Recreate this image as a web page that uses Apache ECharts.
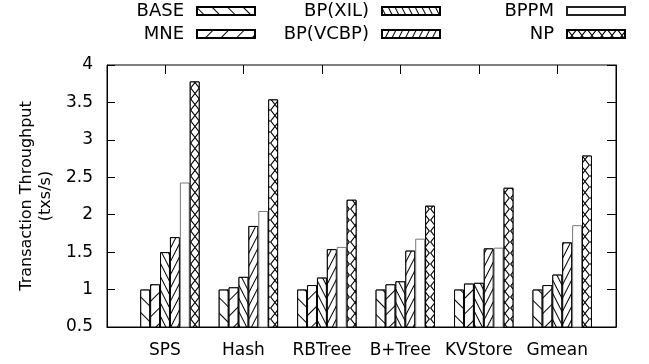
<!DOCTYPE html>
<html>
<head>
<meta charset="utf-8">
<script src="https://cdn.jsdelivr.net/npm/echarts@6.0.0/dist/echarts.min.js"></script>
<style>
  html, body { margin: 0; padding: 0; background: #fff; }
  #chart { width: 649px; height: 364px; }
</style>
</head>
<body>
<div id="chart"></div>
<script>
// data
const categories = ['SPS', 'Hash', 'RBTree', 'B+Tree', 'KVStore', 'Gmean'];
const seriesNames = ['BASE', 'MNE', 'BP(XIL)', 'BP(VCBP)', 'BPPM', 'NP'];
const baseData = [1.0, 1.0, 1.0, 1.0, 1.0, 1.0];
const mneData = [1.07, 1.03, 1.06, 1.07, 1.08, 1.06];
const xilData = [1.5, 1.17, 1.16, 1.11, 1.09, 1.2];
const vcbpData = [1.7, 1.85, 1.54, 1.52, 1.55, 1.63];
const bppmData = [2.43, 2.05, 1.57, 1.68, 1.56, 1.86];
const npData = [3.78, 3.54, 2.2, 2.12, 2.36, 2.79];
const yMin = 0.5;
const yMax = 4;
const yStep = 0.5;

const font = 'DejaVu Sans';

// line hatch made of rotated 1px rows
function hatch(angle, gap) {
  return {
    symbol: 'rect', symbolSize: 1,
    dashArrayX: [1, 0], dashArrayY: [1, gap],
    rotation: angle, color: '#000', backgroundColor: '#fff'
  };
}
const crossHatch = {
  symbol: 'path://M0 0L1.4 0L10 10L8.6 10ZM8.6 0L10 0L1.4 10L0 10Z',
  symbolSize: 1, symbolKeepAspect: false,
  dashArrayX: [10, 0], dashArrayY: [11, 0],
  color: '#000', backgroundColor: '#fff'
};

const decals = [
  hatch(Math.PI / 4, 10),   // "\\"
  hatch(-Math.PI / 4, 10),  // "//"
  hatch(1.1, 5),            // steep "\\"
  hatch(-1.1, 5),           // steep "//"
  null,
  crossHatch
];
const values = [baseData, mneData, xilData, vcbpData, bppmData, npData];

const barW = 9.9;
const series = [{
  // empty slot, pushes the cluster half a bar to the right like gnuplot does
  name: '_slot', type: 'bar', xAxisIndex: 1, yAxisIndex: 2,
  data: [], barWidth: barW, barGap: '0%'
}];
seriesNames.forEach((n, i) => {
  series.push({
    name: n, type: 'bar', xAxisIndex: 1, yAxisIndex: 2,
    data: values[i], barWidth: barW, barGap: '0%',
    itemStyle: {
      color: '#fff',
      borderColor: n === 'BPPM' ? '#777' : '#000',
      borderWidth: 1,
      decal: decals[i] || undefined
    },
    emphasis: { disabled: true },
    animation: false
  });
});

// key: text right-aligned, sample to the right of it
const legendSpots = [
  { right: 393, top: 1 }, { right: 393, top: 24 },
  { right: 208, top: 1 }, { right: 208, top: 24 },
  { right: 23, top: 1 }, { right: 23, top: 24 }
];
const legends = seriesNames.map((n, i) => ({
  data: [n],
  right: legendSpots[i].right,
  top: legendSpots[i].top,
  padding: 0,
  align: 'right',
  icon: 'rect',
  itemWidth: 58,
  itemHeight: 8,
  selectedMode: false,
  itemStyle: n === 'BPPM' ? { borderColor: '#222' } : {},
  textStyle: { fontFamily: font, fontSize: 18, color: '#000', lineHeight: 20, padding: [0, 8, 0, 0] }
}));

const option = {
  animation: false,
  backgroundColor: '#fff',
  legend: legends,
  grid: [
    { left: 107, right: 33, top: 65, bottom: 37, show: true, borderColor: '#000', borderWidth: 1, backgroundColor: 'transparent' },
    { left: 125.77, right: 52.5, top: 65, bottom: 37 }
  ],
  xAxis: [
    {
      gridIndex: 0, type: 'value', min: 0, max: 1,
      axisLine: { show: true, lineStyle: { color: '#000', width: 1 } },
      axisTick: { show: false }, axisLabel: { show: false }, splitLine: { show: false }
    },
    {
      gridIndex: 1, type: 'category', data: categories, position: 'bottom',
      axisLine: { show: false },
      axisTick: { show: true, inside: true, length: 8, alignWithLabel: true, lineStyle: { color: '#000' } },
      axisLabel: { interval: 0, margin: 15, fontFamily: font, fontSize: 17, color: '#000' },
      splitLine: { show: false }
    },
    {
      gridIndex: 1, type: 'category', data: categories, position: 'top',
      axisLine: { show: false },
      axisTick: { show: true, inside: true, length: 9, alignWithLabel: true, lineStyle: { color: '#000' } },
      axisLabel: { show: false },
      splitLine: { show: false }
    }
  ],
  yAxis: [
    {
      gridIndex: 0, type: 'value', min: yMin, max: yMax, interval: yStep, position: 'left',
      name: 'Transaction Throughput\n(txs/s)',
      nameLocation: 'middle', nameRotate: 90, nameGap: 52,
      nameTextStyle: { fontFamily: font, fontSize: 16, lineHeight: 19, color: '#000' },
      axisLine: { show: true, lineStyle: { color: '#000', width: 1 } },
      axisTick: { show: true, inside: true, length: 8, lineStyle: { color: '#000' } },
      axisLabel: { margin: 14, fontFamily: font, fontSize: 17, color: '#000' },
      splitLine: { show: false }
    },
    {
      gridIndex: 0, type: 'value', min: yMin, max: yMax, interval: yStep, position: 'right',
      axisLine: { show: true, lineStyle: { color: '#000', width: 1 } },
      axisTick: { show: true, inside: true, length: 9, lineStyle: { color: '#000' } },
      axisLabel: { show: false },
      splitLine: { show: false }
    },
    {
      gridIndex: 1, type: 'value', min: yMin, max: yMax, interval: yStep, show: false
    }
  ],
  series: series
};

const myChart = echarts.init(document.getElementById('chart'), null, { renderer: 'canvas' });
myChart.setOption(option);
</script>
</body>
</html>
